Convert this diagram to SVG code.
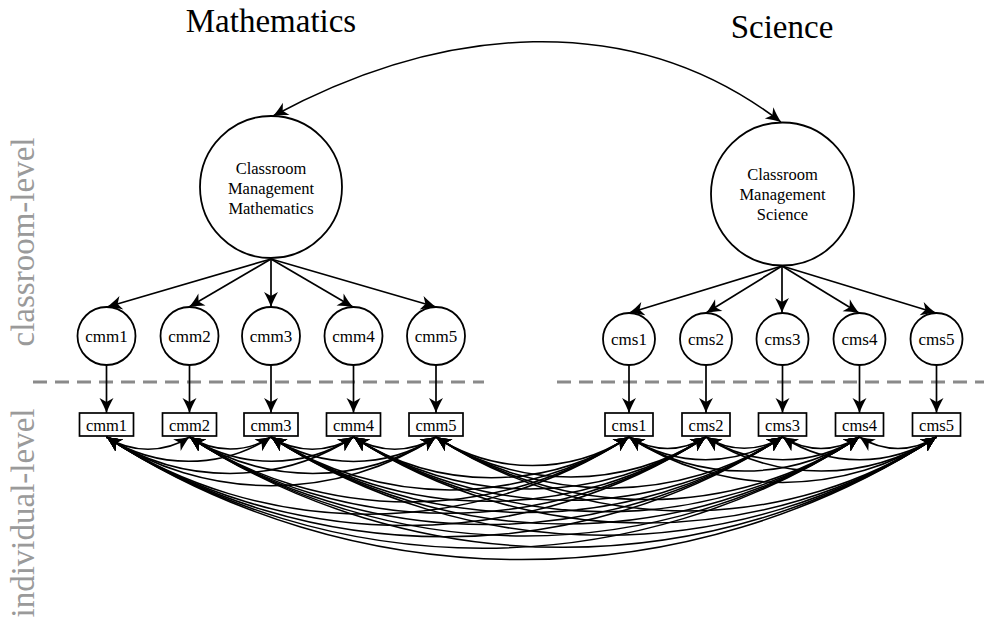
<svg xmlns="http://www.w3.org/2000/svg" width="984" height="628" viewBox="0 0 984 628">
<style>
text{font-family:"Liberation Serif","Times New Roman",serif;fill:#000}
.title{font-family:"Liberation Serif","Times New Roman",serif;font-size:33px;text-anchor:middle}
.lat{font-family:"Liberation Serif","Times New Roman",serif;font-size:16.5px;text-anchor:middle}
.lbl{font-family:"Liberation Serif","Times New Roman",serif;font-size:17px;text-anchor:middle}
.side{font-family:"Liberation Serif","Times New Roman",serif;font-size:33px;text-anchor:middle;fill:#9a9a9a}
.node{fill:#fff;stroke:#000;stroke-width:1.8}
.box{fill:#fff;stroke:#000;stroke-width:1.7}
.arr{fill:none;stroke:#000;stroke-width:1.7;marker-end:url(#ah)}
.cov{fill:none;stroke:#000;stroke-width:1.5;marker-start:url(#ah);marker-end:url(#ah)}
.dash{stroke:#8a8a8a;stroke-width:3;stroke-dasharray:14 8;fill:none}
</style>
<defs>
<marker id="ah" viewBox="-16 -8 17 16" refX="0" refY="0" markerWidth="17" markerHeight="16" markerUnits="userSpaceOnUse" orient="auto-start-reverse">
<path d="M0,0 C-5,-1.8 -10,-4.2 -15,-7 L-11,0 L-15,7 C-10,4.2 -5,1.8 0,0 Z" fill="#000"/>
</marker>
</defs>
<rect width="984" height="628" fill="#fff"/>

<g id="labels">
<text class="title" x="271" y="32">Mathematics</text>
<text class="title" x="782" y="38">Science</text>
<text class="side" transform="translate(34,242) rotate(-90)">classroom-level</text>
<text class="side" transform="translate(34,513) rotate(-90)">individual-level</text>
</g>

<g id="level-divider">
<line class="dash" x1="33" y1="382" x2="484" y2="382"/>
<line class="dash" x1="557" y1="382" x2="984" y2="382"/>
</g>

<g id="connectors">
<path class="cov" d="M273,116 C440,26 630,6 781,122"/>
<path class="arr" d="M271,259 L107,307"/>
<path class="arr" d="M271,259 L189,307"/>
<path class="arr" d="M271,259 L271,307"/>
<path class="arr" d="M271,259 L353,307"/>
<path class="arr" d="M271,259 L436,307"/>
<path class="arr" d="M782,266 L629,313"/>
<path class="arr" d="M782,266 L706,313"/>
<path class="arr" d="M782,266 L782,313"/>
<path class="arr" d="M782,266 L859,313"/>
<path class="arr" d="M782,266 L936,313"/>
<path class="arr" d="M106.5,365 L106.5,413"/>
<path class="arr" d="M189.5,365 L189.5,413"/>
<path class="arr" d="M271,365 L271,413"/>
<path class="arr" d="M353.5,365 L353.5,413"/>
<path class="arr" d="M436,365 L436,413"/>
<path class="arr" d="M629,365 L629,413"/>
<path class="arr" d="M706,365 L706,413"/>
<path class="arr" d="M782.5,365 L782.5,413"/>
<path class="arr" d="M859.5,365 L859.5,413"/>
<path class="arr" d="M936.5,365 L936.5,413"/>
<path class="cov" d="M106.5,437 A76.4,76.4 0 0 0 189.5,437"/>
<path class="cov" d="M106.5,437 A151.3,151.3 0 0 0 271,437"/>
<path class="cov" d="M106.5,437 A227.2,227.2 0 0 0 353.5,437"/>
<path class="cov" d="M106.5,437 A303.1,303.1 0 0 0 436,437"/>
<path class="cov" d="M106.5,437 A480.7,480.7 0 0 0 629,437"/>
<path class="cov" d="M106.5,437 A551.5,551.5 0 0 0 706,437"/>
<path class="cov" d="M106.5,437 A621.9,621.9 0 0 0 782.5,437"/>
<path class="cov" d="M106.5,437 A692.8,692.8 0 0 0 859.5,437"/>
<path class="cov" d="M106.5,437 A763.6,763.6 0 0 0 936.5,437"/>
<path class="cov" d="M189.5,437 A75,75 0 0 0 271,437"/>
<path class="cov" d="M189.5,437 A150.9,150.9 0 0 0 353.5,437"/>
<path class="cov" d="M189.5,437 A226.8,226.8 0 0 0 436,437"/>
<path class="cov" d="M189.5,437 A404.3,404.3 0 0 0 629,437"/>
<path class="cov" d="M189.5,437 A475.2,475.2 0 0 0 706,437"/>
<path class="cov" d="M189.5,437 A545.6,545.6 0 0 0 782.5,437"/>
<path class="cov" d="M189.5,437 A616.4,616.4 0 0 0 859.5,437"/>
<path class="cov" d="M189.5,437 A687.2,687.2 0 0 0 936.5,437"/>
<path class="cov" d="M271,437 A75.9,75.9 0 0 0 353.5,437"/>
<path class="cov" d="M271,437 A151.8,151.8 0 0 0 436,437"/>
<path class="cov" d="M271,437 A329.4,329.4 0 0 0 629,437"/>
<path class="cov" d="M271,437 A400.2,400.2 0 0 0 706,437"/>
<path class="cov" d="M271,437 A470.6,470.6 0 0 0 782.5,437"/>
<path class="cov" d="M271,437 A541.4,541.4 0 0 0 859.5,437"/>
<path class="cov" d="M271,437 A612.3,612.3 0 0 0 936.5,437"/>
<path class="cov" d="M353.5,437 A75.9,75.9 0 0 0 436,437"/>
<path class="cov" d="M353.5,437 A253.5,253.5 0 0 0 629,437"/>
<path class="cov" d="M353.5,437 A324.3,324.3 0 0 0 706,437"/>
<path class="cov" d="M353.5,437 A394.7,394.7 0 0 0 782.5,437"/>
<path class="cov" d="M353.5,437 A465.5,465.5 0 0 0 859.5,437"/>
<path class="cov" d="M353.5,437 A536.4,536.4 0 0 0 936.5,437"/>
<path class="cov" d="M436,437 A177.6,177.6 0 0 0 629,437"/>
<path class="cov" d="M436,437 A248.4,248.4 0 0 0 706,437"/>
<path class="cov" d="M436,437 A318.8,318.8 0 0 0 782.5,437"/>
<path class="cov" d="M436,437 A389.6,389.6 0 0 0 859.5,437"/>
<path class="cov" d="M436,437 A460.5,460.5 0 0 0 936.5,437"/>
<path class="cov" d="M629,437 A70.8,70.8 0 0 0 706,437"/>
<path class="cov" d="M629,437 A141.2,141.2 0 0 0 782.5,437"/>
<path class="cov" d="M629,437 A212.1,212.1 0 0 0 859.5,437"/>
<path class="cov" d="M629,437 A282.9,282.9 0 0 0 936.5,437"/>
<path class="cov" d="M706,437 A70.4,70.4 0 0 0 782.5,437"/>
<path class="cov" d="M706,437 A141.2,141.2 0 0 0 859.5,437"/>
<path class="cov" d="M706,437 A212.1,212.1 0 0 0 936.5,437"/>
<path class="cov" d="M782.5,437 A70.8,70.8 0 0 0 859.5,437"/>
<path class="cov" d="M782.5,437 A141.7,141.7 0 0 0 936.5,437"/>
<path class="cov" d="M859.5,437 A70.8,70.8 0 0 0 936.5,437"/>
</g>

<g id="CM_Math">
<circle class="node" cx="271" cy="187" r="71"/>
<text class="lat" x="271" y="173.5">Classroom</text>
<text class="lat" x="271" y="193.5">Management</text>
<text class="lat" x="271" y="213.5">Mathematics</text>
</g>
<g id="CM_Science">
<circle class="node" cx="782.5" cy="194" r="71.5"/>
<text class="lat" x="782.5" y="179.5">Classroom</text>
<text class="lat" x="782.5" y="199.5">Management</text>
<text class="lat" x="782.5" y="219.5">Science</text>
</g>

<g id="c_cmm1"><circle class="node" cx="106.5" cy="336" r="29"/><text class="lbl" x="106.5" y="342">cmm1</text></g>
<g id="c_cmm2"><circle class="node" cx="189.5" cy="336" r="29"/><text class="lbl" x="189.5" y="342">cmm2</text></g>
<g id="c_cmm3"><circle class="node" cx="271" cy="336" r="29"/><text class="lbl" x="271" y="342">cmm3</text></g>
<g id="c_cmm4"><circle class="node" cx="353.5" cy="336" r="29"/><text class="lbl" x="353.5" y="342">cmm4</text></g>
<g id="c_cmm5"><circle class="node" cx="436" cy="336" r="29"/><text class="lbl" x="436" y="342">cmm5</text></g>

<g id="c_cms1"><circle class="node" cx="629" cy="339" r="26"/><text class="lbl" x="629" y="345">cms1</text></g>
<g id="c_cms2"><circle class="node" cx="706" cy="339" r="26"/><text class="lbl" x="706" y="345">cms2</text></g>
<g id="c_cms3"><circle class="node" cx="782.5" cy="339" r="26"/><text class="lbl" x="782.5" y="345">cms3</text></g>
<g id="c_cms4"><circle class="node" cx="859.5" cy="339" r="26"/><text class="lbl" x="859.5" y="345">cms4</text></g>
<g id="c_cms5"><circle class="node" cx="936.5" cy="339" r="26"/><text class="lbl" x="936.5" y="345">cms5</text></g>

<g id="i_cmm1"><rect class="box" x="79.5" y="413" width="54" height="23"/><text class="lat" x="106.5" y="430.5">cmm1</text></g>
<g id="i_cmm2"><rect class="box" x="162.5" y="413" width="54" height="23"/><text class="lat" x="189.5" y="430.5">cmm2</text></g>
<g id="i_cmm3"><rect class="box" x="244" y="413" width="54" height="23"/><text class="lat" x="271" y="430.5">cmm3</text></g>
<g id="i_cmm4"><rect class="box" x="326.5" y="413" width="54" height="23"/><text class="lat" x="353.5" y="430.5">cmm4</text></g>
<g id="i_cmm5"><rect class="box" x="409" y="413" width="54" height="23"/><text class="lat" x="436" y="430.5">cmm5</text></g>

<g id="i_cms1"><rect class="box" x="605" y="413" width="48" height="23"/><text class="lat" x="629" y="430.5">cms1</text></g>
<g id="i_cms2"><rect class="box" x="682" y="413" width="48" height="23"/><text class="lat" x="706" y="430.5">cms2</text></g>
<g id="i_cms3"><rect class="box" x="758.5" y="413" width="48" height="23"/><text class="lat" x="782.5" y="430.5">cms3</text></g>
<g id="i_cms4"><rect class="box" x="835.5" y="413" width="48" height="23"/><text class="lat" x="859.5" y="430.5">cms4</text></g>
<g id="i_cms5"><rect class="box" x="912.5" y="413" width="48" height="23"/><text class="lat" x="936.5" y="430.5">cms5</text></g>
</svg>
